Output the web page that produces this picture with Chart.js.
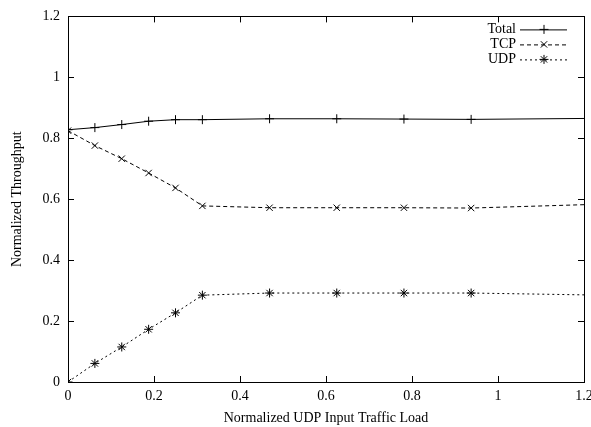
<!DOCTYPE html>
<html>
<head>
<meta charset="utf-8">
<script src="https://cdn.jsdelivr.net/npm/chart.js@4"></script>
<style>
  html, body { margin: 0; padding: 0; background: #fff; }
  #wrap { width: 591px; height: 427px; }
</style>
</head>
<body>
<div id="wrap"><canvas id="canvas" width="591" height="427"></canvas></div>
<script>
// offered UDP load (x) and measured throughput
const loads = [0, 0.0625, 0.125, 0.1875, 0.25, 0.3125, 0.46875, 0.625, 0.78125, 0.9375, 1.2];
const total = [0.828, 0.835, 0.845, 0.856, 0.861, 0.861, 0.864, 0.864, 0.863, 0.862, 0.865];
const tcp   = [0.825, 0.776, 0.733, 0.686, 0.637, 0.578, 0.572, 0.572, 0.572, 0.571, 0.582];
const udp   = [0.0, 0.061, 0.115, 0.173, 0.227, 0.285, 0.292, 0.292, 0.292, 0.292, 0.286];
const xTicks = [0, 0.2, 0.4, 0.6, 0.8, 1, 1.2];
const yTicks = [0, 0.2, 0.4, 0.6, 0.8, 1, 1.2];
const names = ['Total', 'TCP', 'UDP'];

const FONT = 'Liberation Serif';
const ctx = document.getElementById('canvas');

function pts(ys) {
  return loads.map((x, i) => ({ x: x, y: ys[i] }));
}
// last sample sits on the right border, gnuplot shows no marker there
const radii = loads.map((x, i) => i === loads.length - 1 ? 0 : 4.5);

function ds(label, ys, style, dash) {
  return {
    label: label,
    data: pts(ys),
    borderColor: '#000',
    backgroundColor: '#000',
    borderWidth: 1,
    borderDash: dash,
    pointStyle: style,
    pointRadius: radii,
    pointBorderWidth: 1,
    pointBorderColor: '#000',
    tension: 0
  };
}

// box + inward ticks on all four sides, and the gnuplot style key
const frame = {
  id: 'frame',
  afterDatasetsDraw(chart) {
    const c = chart.ctx, a = chart.chartArea;
    const xs = chart.scales.x, ys = chart.scales.y;
    c.save();
    c.strokeStyle = '#000';
    c.lineWidth = 1;
    c.setLineDash([]);
    c.strokeRect(Math.round(a.left) + 0.5, Math.round(a.top) + 0.5,
      Math.round(a.right - a.left), Math.round(a.bottom - a.top));
    c.beginPath();
    xTicks.forEach(v => {
      const px = Math.round(xs.getPixelForValue(v)) + 0.5;
      c.moveTo(px, a.bottom); c.lineTo(px, a.bottom - 6);
      c.moveTo(px, a.top); c.lineTo(px, a.top + 6);
    });
    yTicks.forEach(v => {
      const py = Math.round(ys.getPixelForValue(v)) + 0.5;
      c.moveTo(a.left, py); c.lineTo(a.left + 6, py);
      c.moveTo(a.right, py); c.lineTo(a.right - 6, py);
    });
    c.stroke();

    // key
    c.font = '14px "' + FONT + '"';
    c.textAlign = 'right';
    c.textBaseline = 'middle';
    chart.data.datasets.forEach((d, i) => {
      const y = a.top + 13 + i * 15;
      c.fillStyle = '#000';
      c.fillText(d.label, a.right - 68, y);
      c.setLineDash(d.borderDash || []);
      c.beginPath();
      c.moveTo(a.right - 64, y + 0.5);
      c.lineTo(a.right - 17, y + 0.5);
      c.stroke();
      c.setLineDash([]);
      Chart.helpers.drawPoint(c, { pointStyle: d.pointStyle, radius: 4.5, borderWidth: 1 }, a.right - 40, y);
    });
    c.restore();
  }
};

new Chart(ctx, {
  type: 'line',
  data: {
    datasets: [
      ds(names[0], total, 'cross', []),
      ds(names[1], tcp, 'crossRot', [4, 3]),
      ds(names[2], udp, 'star', [2, 3])
    ]
  },
  options: {
    responsive: false,
    animation: false,
    layout: { padding: { top: 13, right: 7, left: 0, bottom: 0 } },
    plugins: {
      legend: { display: false },
      tooltip: { enabled: false }
    },
    scales: {
      x: {
        type: 'linear',
        min: 0,
        max: 1.2,
        afterBuildTicks: s => { s.ticks = xTicks.map(v => ({ value: v })); },
        afterFit: s => { s.height = 45; s.paddingRight = 0; s.paddingLeft = 0; },
        grid: { display: false, drawTicks: false },
        border: { display: false },
        ticks: { color: '#000', font: { family: FONT, size: 14 }, padding: 6, maxRotation: 0,
          callback: v => String(v) },
        title: { display: true, text: 'Normalized UDP Input Traffic Load', color: '#000',
          font: { family: FONT, size: 14 }, padding: { top: 2, bottom: 0 } }
      },
      y: {
        min: 0,
        max: 1.2,
        afterBuildTicks: s => { s.ticks = yTicks.map(v => ({ value: v })); },
        afterFit: s => { s.width = 68; },
        grid: { display: false, drawTicks: false },
        border: { display: false },
        ticks: { color: '#000', font: { family: FONT, size: 14 }, padding: 8,
          callback: v => String(v) },
        title: { display: true, text: 'Normalized Throughput', color: '#000',
          font: { family: FONT, size: 14 }, padding: { top: 9, bottom: 0 } }
      }
    }
  },
  plugins: [frame]
});
</script>
</body>
</html>
